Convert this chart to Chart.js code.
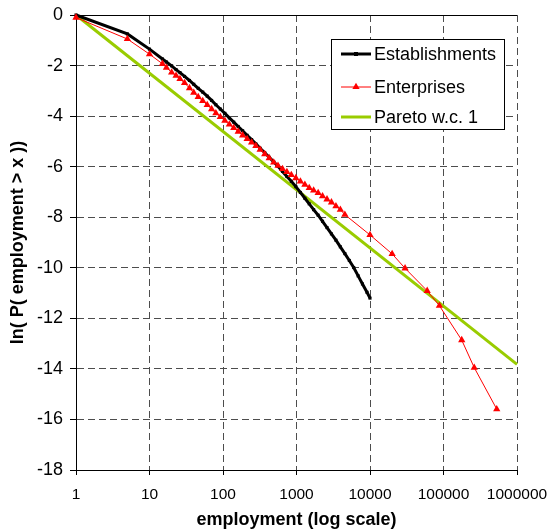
<!DOCTYPE html>
<html>
<head>
<meta charset="utf-8">
<script src="https://cdn.jsdelivr.net/npm/chart.js@4.4.1/dist/chart.umd.min.js"></script>
<style>
  html, body { margin: 0; padding: 0; background: #fff; }
  #wrap { width: 550px; height: 531px; position: relative; }
</style>
</head>
<body>
<div id="wrap"><canvas id="c" width="550" height="531"></canvas></div>
<script>
// Axis ticks
const xTicks = [1, 10, 100, 1000, 10000, 100000, 1000000];
const yTicks = [0, -2, -4, -6, -8, -10, -12, -14, -16, -18];

// Establishments: size threshold x and ln P(employment > x)
const estSizes = [1, 5, 10, 15, 17, 20, 23, 26, 30, 35, 40, 46, 53, 61, 70, 80, 92, 106, 122, 140,
  161, 185, 213, 245, 280, 320, 370, 425, 490, 560, 645, 740, 850, 980, 1130, 1300, 1490, 1710,
  1970, 2260, 2600, 2990, 3440, 3950, 4550, 5230, 6000, 6900, 7900, 9100, 10000];
const estLnP = [0, -0.75, -1.35, -1.74, -1.86, -2.01, -2.16, -2.28, -2.43, -2.59, -2.74, -2.90, -3.05,
  -3.21, -3.38, -3.55, -3.72, -3.89, -4.07, -4.24, -4.41, -4.58, -4.76, -4.93, -5.10, -5.27, -5.45,
  -5.63, -5.81, -5.98, -6.19, -6.39, -6.58, -6.79, -7.02, -7.25, -7.47, -7.70, -7.92, -8.16, -8.41,
  -8.66, -8.91, -9.17, -9.44, -9.71, -9.99, -10.32, -10.64, -10.97, -11.20];

// Enterprises
const entSizes = [1, 5, 10, 15, 17, 20, 23, 26, 30, 35, 40, 46, 53, 61, 70, 80, 92, 106, 122, 140,
  161, 185, 213, 245, 280, 320, 370, 425, 490, 560, 645, 740, 850, 980, 1130, 1300, 1490, 1710,
  1970, 2260, 2600, 2990, 3440, 3950, 4550, 10000, 20000, 30000, 60000, 88000, 177000, 262000, 530000];
const entLnP = [-0.1, -0.95, -1.55, -1.93, -2.08, -2.27, -2.40, -2.53, -2.69, -2.89, -3.07, -3.24,
  -3.40, -3.56, -3.72, -3.88, -4.03, -4.18, -4.33, -4.47, -4.61, -4.76, -4.90, -5.04, -5.18, -5.33,
  -5.50, -5.66, -5.83, -5.96, -6.09, -6.21, -6.33, -6.45, -6.58, -6.71, -6.84, -6.94, -7.04, -7.17,
  -7.29, -7.41, -7.56, -7.70, -7.90, -8.70, -9.45, -10.02, -10.91, -11.50, -12.86, -13.95, -15.59];

// Pareto reference line with coefficient 1
const paretoSizes = [1, 1000000];
const paretoLnP = [0, -13.82];

const seriesNames = ['Establishments', 'Enterprises', 'Pareto w.c. 1'];

const FONT = "'Liberation Sans', Arial, Helvetica, sans-serif";
const GRID = '#4d4d4d';

const toPoints = (xs, ys) => xs.map((x, i) => ({ x, y: ys[i] }));

// Solid frame line along the top of the plot area
const topFrame = {
  id: 'topFrame',
  beforeDatasetsDraw(chart) {
    const { ctx, chartArea: a } = chart;
    ctx.save();
    ctx.strokeStyle = '#000';
    ctx.lineWidth = 1;
    ctx.beginPath();
    ctx.moveTo(a.left, a.top + 0.5);
    ctx.lineTo(a.right, a.top + 0.5);
    ctx.stroke();
    ctx.restore();
  }
};

// Boxed legend inside the plot area
const boxLegend = {
  id: 'boxLegend',
  afterDraw(chart) {
    const { ctx } = chart;
    const bx = 331, by = 39, bw = 173, bh = 90;
    const rows = [54, 87, 117];
    ctx.save();
    ctx.fillStyle = '#fff';
    ctx.fillRect(bx, by, bw, bh);
    ctx.strokeStyle = '#000';
    ctx.lineWidth = 1;
    ctx.strokeRect(bx + 0.5, by + 0.5, bw, bh);
    chart.data.datasets.forEach((ds, i) => {
      const y = rows[i];
      ctx.strokeStyle = ds.borderColor;
      ctx.lineWidth = ds.borderWidth;
      ctx.beginPath();
      ctx.moveTo(341, y);
      ctx.lineTo(371, y);
      ctx.stroke();
      const mx = 356;
      ctx.fillStyle = ds.pointBackgroundColor || ds.borderColor;
      if (ds.pointStyle === 'rect') {
        ctx.fillRect(mx - 2, y - 2, 4, 4);
      } else if (ds.pointStyle === 'triangle') {
        const r = ds.pointRadius;
        ctx.beginPath();
        ctx.moveTo(mx, y - r);
        ctx.lineTo(mx + r * 0.866, y + r * 0.5);
        ctx.lineTo(mx - r * 0.866, y + r * 0.5);
        ctx.closePath();
        ctx.fill();
      }
      ctx.fillStyle = '#000';
      ctx.font = '18px ' + FONT;
      ctx.textBaseline = 'middle';
      ctx.textAlign = 'left';
      ctx.fillText(ds.label, 374, y + 1);
    });
    ctx.restore();
  }
};

new Chart(document.getElementById('c'), {
  type: 'scatter',
  data: {
    datasets: [
      {
        label: seriesNames[0],
        data: toPoints(estSizes, estLnP),
        showLine: true,
        borderColor: '#000',
        backgroundColor: '#000',
        pointBackgroundColor: '#000',
        pointBorderWidth: 0,
        borderWidth: 3,
        pointStyle: 'rect',
        pointRadius: 2.2,
        clip: false,
        order: 1
      },
      {
        label: seriesNames[1],
        data: toPoints(entSizes, entLnP),
        showLine: true,
        borderColor: '#ff0000',
        backgroundColor: '#ff0000',
        pointBackgroundColor: '#ff0000',
        pointBorderWidth: 0,
        borderWidth: 1,
        pointStyle: 'triangle',
        pointRadius: 4.2,
        clip: false,
        order: 0
      },
      {
        label: seriesNames[2],
        data: toPoints(paretoSizes, paretoLnP),
        showLine: true,
        borderColor: '#99cc00',
        backgroundColor: '#99cc00',
        borderWidth: 3,
        pointRadius: 0,
        clip: false,
        order: 2
      }
    ]
  },
  options: {
    responsive: false,
    animation: false,
    devicePixelRatio: 1,
    layout: { padding: { top: 15, right: 33, left: 0, bottom: 0 } },
    plugins: { legend: { display: false }, tooltip: { enabled: false } },
    elements: { line: { tension: 0 } },
    scales: {
      x: {
        type: 'logarithmic',
        min: 1,
        max: 1000000,
        afterBuildTicks: (s) => { s.ticks = xTicks.map(v => ({ value: v })); },
        afterFit: (s) => { s.height = 61; s.paddingLeft = 0; s.paddingRight = 0; },
        ticks: {
          autoSkip: false,
          maxRotation: 0,
          padding: 10,
          color: '#000',
          font: { family: FONT, size: 15.5 },
          callback: (v) => String(v)
        },
        grid: { color: GRID, lineWidth: 1, tickLength: 5, tickColor: '#000', tickBorderDash: [] },
        border: { color: '#000', width: 1, dash: [7, 4] },
        title: {
          display: true,
          text: 'employment (log scale)',
          color: '#000',
          padding: { top: 0, bottom: 0 },
          font: { family: FONT, size: 18, weight: 'bold' }
        }
      },
      y: {
        type: 'linear',
        min: -18,
        max: 0,
        afterBuildTicks: (s) => { s.ticks = yTicks.map(v => ({ value: v })); },
        afterFit: (s) => { s.width = 76; s.paddingTop = 0; s.paddingBottom = 0; },
        ticks: {
          padding: 7,
          color: '#000',
          font: { family: FONT, size: 18 },
          callback: (v) => String(v)
        },
        grid: { color: GRID, lineWidth: 1, tickLength: 6, tickColor: '#000', tickBorderDash: [] },
        border: { color: '#000', width: 1, dash: [7, 4] },
        title: {
          display: true,
          text: 'ln( P( employment > x ))',
          color: '#000',
          padding: { top: 7, bottom: 0 },
          font: { family: FONT, size: 18, weight: 'bold' }
        }
      }
    }
  },
  plugins: [topFrame, boxLegend]
});
</script>
</body>
</html>
